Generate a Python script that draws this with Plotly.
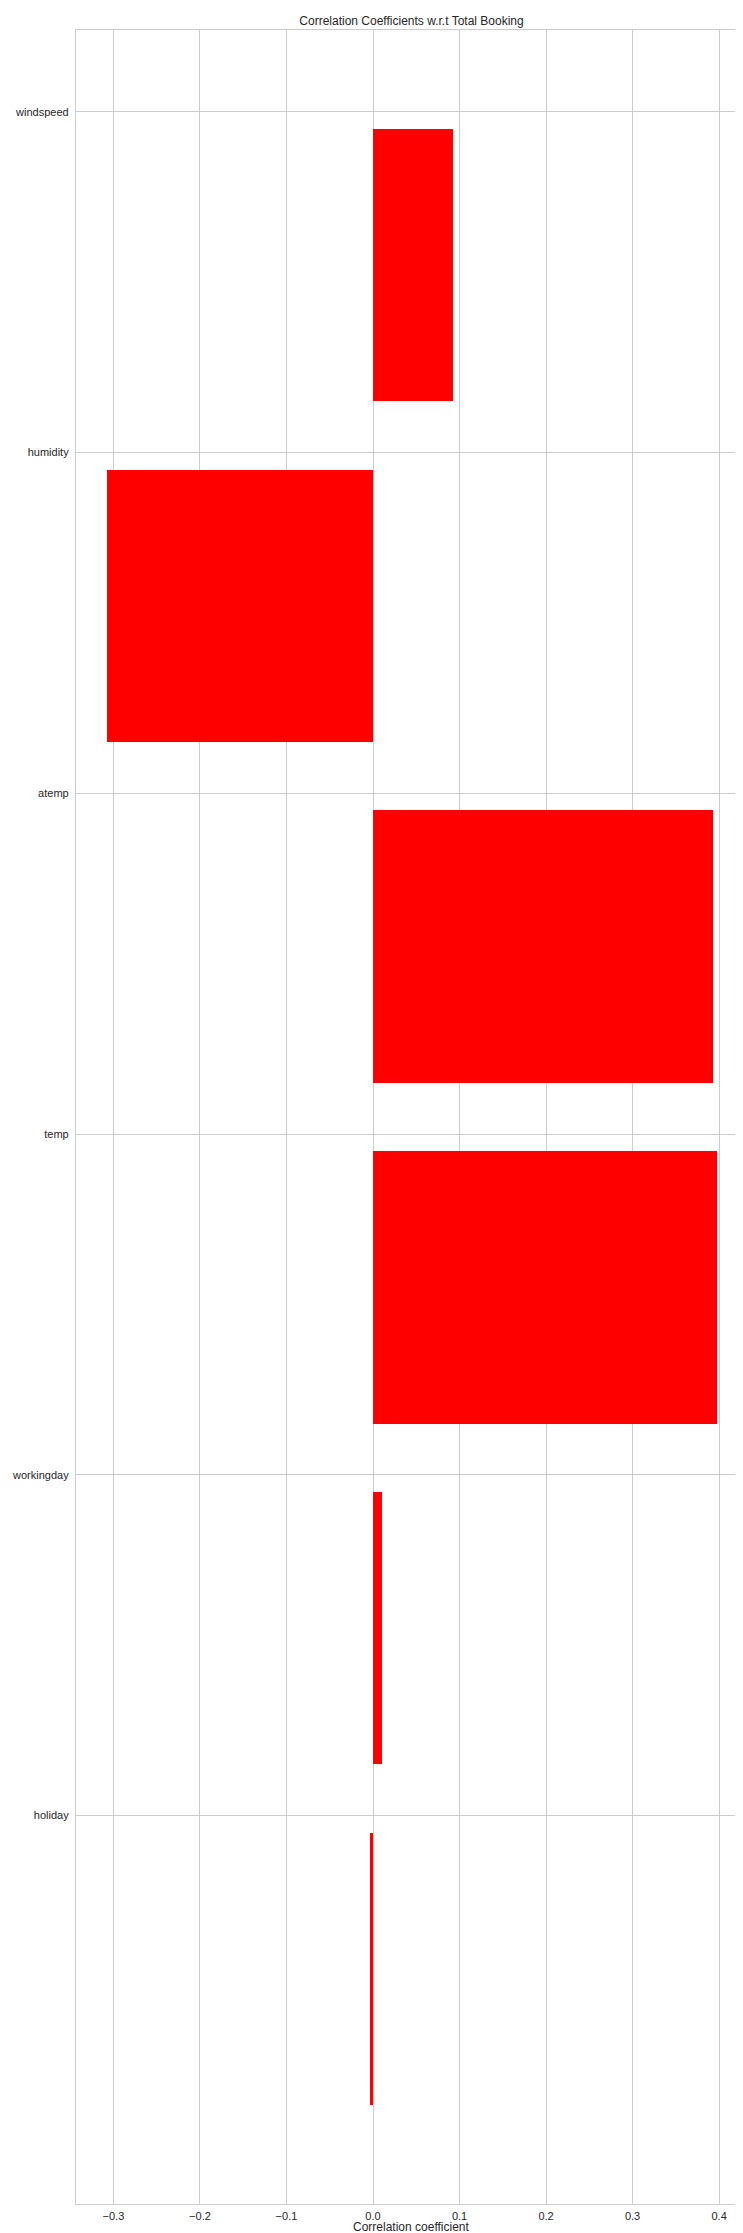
import plotly.graph_objects as go

# Data (bottom-to-top order as in matplotlib barh)
categories = ["holiday", "workingday", "temp", "atemp", "humidity", "windspeed"]
coefficients = [-0.0035, 0.0107, 0.397, 0.393, -0.308, 0.092]
x_tick_vals = [-0.3, -0.2, -0.1, 0.0, 0.1, 0.2, 0.3, 0.4]
x_tick_text = ["\u22120.3", "\u22120.2", "\u22120.1", "0.0", "0.1", "0.2", "0.3", "0.4"]

W, H = 743, 2233
L, R, T, B = 68, 4, 22, 37

positions = list(range(len(categories)))
bar_offset = 0.45  # bars drawn just below each tick
bar_centers = [p - bar_offset for p in positions]

fig = go.Figure()
fig.add_trace(go.Bar(
    x=coefficients,
    y=bar_centers,
    orientation="h",
    width=0.8,
    marker=dict(color="#ff0000", line=dict(width=0)),
    showlegend=False,
    hoverinfo="x",
))

# matplotlib-like 5% margins
xmin, xmax = min(coefficients + [0]), max(coefficients + [0])
xspan = xmax - xmin
ymin, ymax = min(bar_centers) - 0.4, max(bar_centers) + 0.4
yspan = ymax - ymin

font_family = "Liberation Sans, Arial, sans-serif"
text_color = "#262626"
grid_color = "#cccccc"

fig.update_layout(
    width=W, height=H,
    margin=dict(l=L, r=R, t=T, b=B),
    plot_bgcolor="white", paper_bgcolor="white",
    font=dict(family=font_family, color=text_color, size=11),
    bargap=0,
    title=dict(
        text="Correlation Coefficients w.r.t Total Booking",
        x=(L + (W - L - R) / 2) / W, xanchor="center",
        y=1 - 12.5 / H, yanchor="middle", yref="container",
        font=dict(size=12, color=text_color, family=font_family),
    ),
    xaxis=dict(
        range=[xmin - 0.05 * xspan, xmax + 0.05 * xspan],
        tickvals=x_tick_vals, ticktext=x_tick_text,
        showgrid=True, gridcolor=grid_color, gridwidth=1,
        zeroline=False,
        showline=True, linecolor=grid_color, linewidth=1.25, mirror=True,
        ticks="", ticklabelstandoff=2,
        tickfont=dict(size=11, color=text_color),
    ),
    yaxis=dict(
        range=[ymin - 0.05 * yspan, ymax + 0.05 * yspan],
        tickvals=positions, ticktext=categories,
        showgrid=True, gridcolor=grid_color, gridwidth=1,
        zeroline=False,
        showline=True, linecolor=grid_color, linewidth=1.25, mirror=True,
        ticks="", ticklabelstandoff=4,
        tickfont=dict(size=11, color=text_color),
    ),
    annotations=[dict(
        text="Correlation coefficient",
        xref="paper", yref="paper", x=0.5, y=-(2219 - (H - B)) / (H - T - B),
        xanchor="center", yanchor="middle", showarrow=False,
        font=dict(size=12, color=text_color, family=font_family),
    )],
)

fig.write_html("out.html")
